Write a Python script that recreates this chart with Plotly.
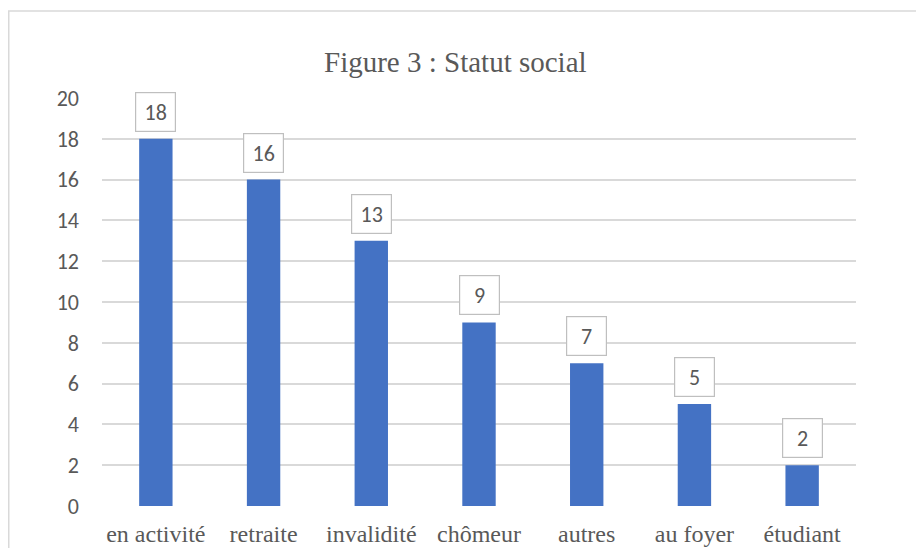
import plotly.graph_objects as go

categories = ["en activité", "retraite", "invalidité", "chômeur", "autres", "au foyer", "étudiant"]
values = [18, 16, 13, 9, 7, 5, 2]
y_ticks = [0, 2, 4, 6, 8, 10, 12, 14, 16, 18, 20]
title_text = "Figure 3 : Statut social"

# page body has an 8px margin, so the figure starts at (8, 8)
OFF = 8
W, H = 924 - 2 * OFF, 556 - 2 * OFF
L, T = 102 - OFF, 98 - OFF
R = W - (856 - OFF)
B = H - (506 - OFF)
pw, ph = W - L - R, H - T - B

SANS = "Carlito, Lato, 'Liberation Sans', sans-serif"
SERIF = "'Liberation Serif', 'Times New Roman', serif"
TXT = "#595959"

fig = go.Figure()
fig.add_trace(go.Bar(x=categories, y=values, marker=dict(color="#4472C4", line=dict(width=0)),
                     hoverinfo="x+y"))

annotations = []
for c, v in zip(categories, values):
    annotations.append(dict(x=c, y=v, xref="x", yref="y", text=str(v), showarrow=False,
                            yanchor="bottom", yshift=7, width=27, height=26,
                            borderpad=6, borderwidth=1.2, bordercolor="#BFBFBF", bgcolor="white",
                            font=dict(family=SANS, size=22, color=TXT)))
annotations.append(dict(x=(455 - OFF - L) / pw, y=1 + (T - (62 - OFF)) / ph, xref="paper", yref="paper",
                        text=title_text, showarrow=False, xanchor="center", yanchor="middle",
                        font=dict(family=SERIF, size=29, color=TXT)))

fig.update_layout(
    width=W, height=H,
    margin=dict(l=L, r=R, t=T, b=B, autoexpand=False),
    paper_bgcolor="white", plot_bgcolor="white",
    bargap=0.69, showlegend=False,
    annotations=annotations,
    shapes=[dict(type="rect", xref="paper", yref="paper",
                 x0=(8 - OFF - L + 0.75) / pw, x1=(W + 20 - L) / pw,
                 y0=-(B + 20) / ph, y1=1 + (T - (11 - OFF)) / ph,
                 line=dict(color="#D9D9D9", width=1.5), layer="below")],
    xaxis=dict(showgrid=False, zeroline=False, showline=False, ticks="",
               tickfont=dict(family=SERIF, size=24, color=TXT), ticklabelstandoff=11,
               automargin=False),
    yaxis=dict(range=[0, 20], tickvals=y_ticks, showgrid=True, gridcolor="#D9D9D9", gridwidth=1.5,
               zeroline=False, showline=False, ticks="",
               tickfont=dict(family=SANS, size=22, color=TXT), ticklabelstandoff=22,
               automargin=False),
)

fig.write_html("out.html")
